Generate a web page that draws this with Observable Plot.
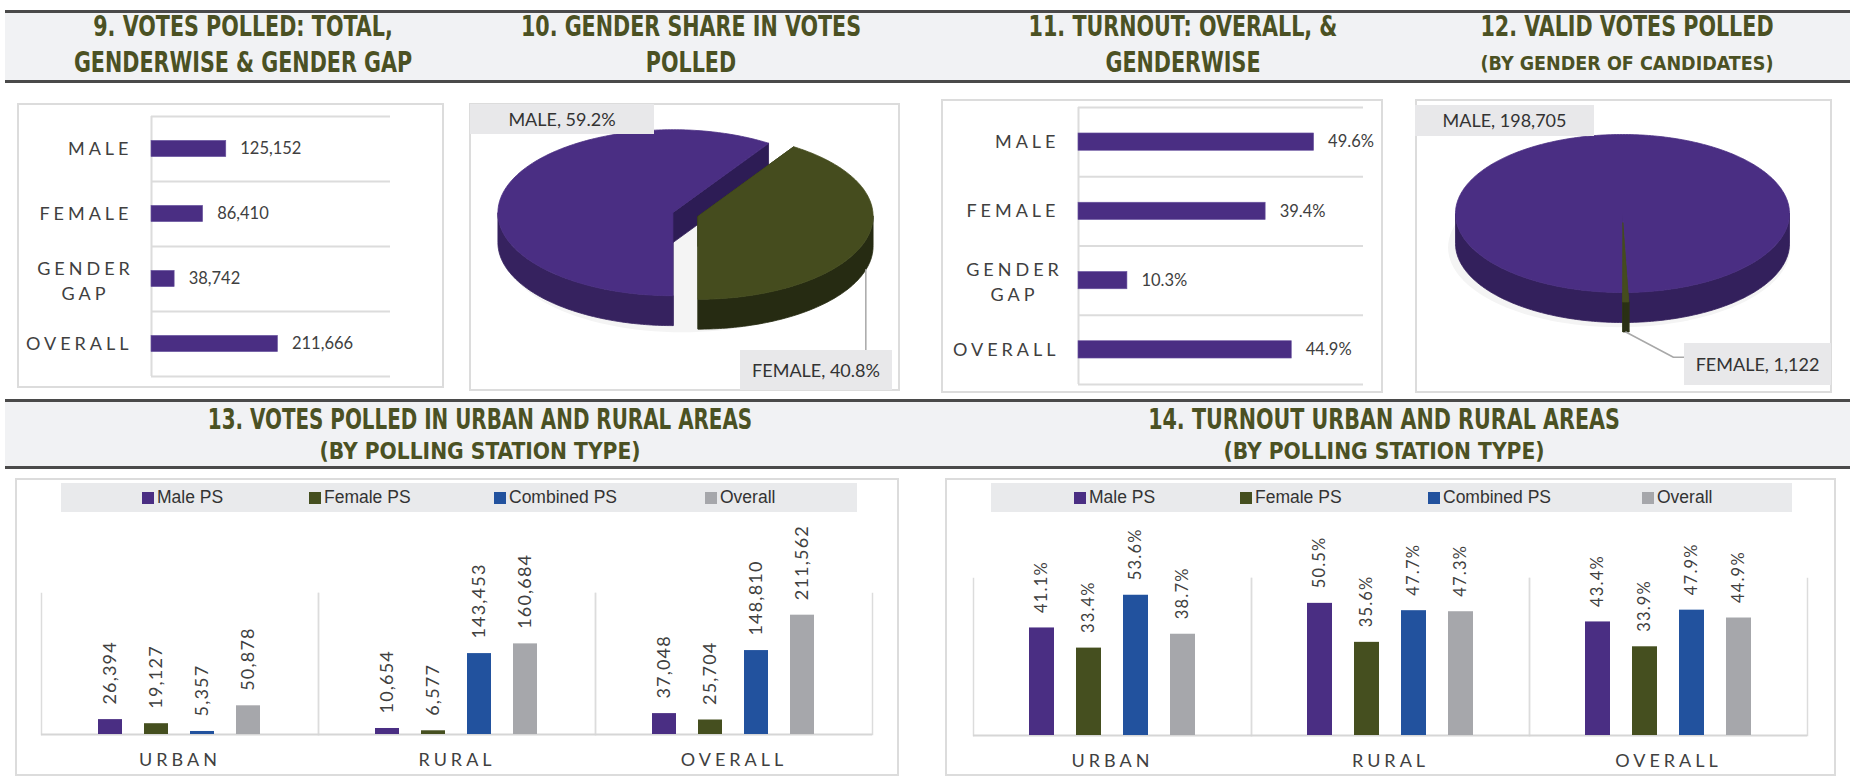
<!DOCTYPE html>
<html><head><meta charset="utf-8">
<script src="https://cdn.jsdelivr.net/npm/d3@7"></script>
<script src="https://cdn.jsdelivr.net/npm/@observablehq/plot@0.6"></script>
<style>
body{margin:0;background:#fff;width:1855px;height:776px;overflow:hidden;position:relative;font-family:Lato,"Open Sans",sans-serif;}
.abs{position:absolute}
.band{position:absolute;left:5px;width:1845px;background:#f1f2f4;border-top:3px solid #4a4a4a;border-bottom:3px solid #4a4a4a;box-sizing:border-box}
.title{position:absolute;transform:translateX(-50%) scaleX(0.82);text-align:center;white-space:nowrap;font-family:"Liberation Sans Narrow","DejaVu Sans Condensed",sans-serif;font-weight:bold;color:#4b5123;font-size:28px;line-height:36px}
.sub{font-size:19.5px;line-height:24px;transform:translateX(-50%)}
.sub2{font-size:23px;line-height:26px;transform:translateX(-50%) scaleX(0.98)}
.box{position:absolute;border:2px solid #dcdcdc;box-sizing:border-box;background:#fff}
.plabel{position:absolute;background:#e8e8ea;text-align:center;font-size:18px;color:#333;white-space:nowrap}
.legend{position:absolute;background:#e9eaec;height:29px}
.legend .it{position:absolute;top:0;height:29px;line-height:29px;font-family:"Liberation Sans",Arial,sans-serif;font-size:17.5px;color:#333;white-space:nowrap}
.legend .sw{display:inline-block;width:12px;height:12px;margin-right:3px;vertical-align:-1px}
[aria-description="spaced"] text{letter-spacing:4px}
[aria-description="vals"] text{letter-spacing:1.2px}
[aria-label^="fx-axis"] text{font-size:18px;letter-spacing:4px;fill:#404040}
</style>
</head><body>
<div class="band" style="top:10px;height:73px"></div>
<div class="band" style="top:399px;height:70px"></div>

<div class="title" style="left:243px;top:9px">9. VOTES POLLED: TOTAL,<br>GENDERWISE &amp; GENDER GAP</div>
<div class="title" style="left:691px;top:9px">10. GENDER SHARE IN VOTES<br>POLLED</div>
<div class="title" style="left:1183px;top:9px">11. TURNOUT: OVERALL, &amp;<br>GENDERWISE</div>
<div class="title" style="left:1627px;top:9px">12. VALID VOTES POLLED</div>
<div class="title sub" style="left:1627px;top:52px">(BY GENDER OF CANDIDATES)</div>
<div class="title" style="left:480px;top:402px;transform:translateX(-50%) scaleX(0.79)">13. VOTES POLLED IN URBAN AND RURAL AREAS</div>
<div class="title sub2" style="left:480px;top:438px">(BY POLLING STATION TYPE)</div>
<div class="title" style="left:1384px;top:402px">14. TURNOUT URBAN AND RURAL AREAS</div>
<div class="title sub2" style="left:1384px;top:438px">(BY POLLING STATION TYPE)</div>

<div class="box" style="left:17px;top:103px;width:427px;height:285px"></div>
<div class="box" style="left:469px;top:103px;width:431px;height:288px"></div>
<div class="box" style="left:941px;top:99px;width:442px;height:294px"></div>
<div class="box" style="left:1415px;top:99px;width:417px;height:294px"></div>
<div class="box" style="left:15px;top:478px;width:884px;height:298px"></div>
<div class="box" style="left:945px;top:478px;width:891px;height:298px"></div>

<div id="c9" class="abs" style="left:17px;top:103px;width:427px;height:285px"></div>
<div id="c10" class="abs" style="left:469px;top:103px;width:431px;height:288px"></div>
<div id="c11" class="abs" style="left:941px;top:99px;width:442px;height:294px"></div>
<div id="c12" class="abs" style="left:1415px;top:99px;width:417px;height:294px"></div>
<div id="l13" class="legend" style="left:61px;top:483px;width:796px"></div>
<div id="l14" class="legend" style="left:991px;top:483px;width:801px"></div>
<div id="c13" class="abs" style="left:15px;top:515px;width:884px;height:261px"></div>
<div id="c14" class="abs" style="left:945px;top:515px;width:891px;height:261px"></div>

<div id="p10a" class="plabel" style="left:470px;top:104px;width:184px;height:30px;line-height:30px"></div>
<div id="p10b" class="plabel" style="left:740px;top:350px;width:152px;height:40px;line-height:40px"></div>
<div id="p12a" class="plabel" style="left:1415px;top:105px;width:179px;height:31px;line-height:31px"></div>
<div id="p12b" class="plabel" style="left:1684px;top:343px;width:147px;height:42px;line-height:42px"></div>

<script>
// ---------- DATA ----------
const genderCats = ["MALE", "FEMALE", "GENDER\nGAP", "OVERALL"];
const votesPolled = [125152, 86410, 38742, 211666];
const turnoutPct = [49.6, 39.4, 10.3, 44.9];
const shareCats = ["MALE", "FEMALE"];
const sharePct = [59.2, 40.8];
const validVotes = [198705, 1122];
const areas = ["URBAN", "RURAL", "OVERALL"];
const psTypes = ["Male PS", "Female PS", "Combined PS", "Overall"];
const votesMalePS = [26394, 10654, 37048];
const votesFemalePS = [19127, 6577, 25704];
const votesCombinedPS = [5357, 143453, 148810];
const votesOverallPS = [50878, 160684, 211562];
const turnMalePS = [41.1, 50.5, 43.4];
const turnFemalePS = [33.4, 35.6, 33.9];
const turnCombinedPS = [53.6, 47.7, 47.9];
const turnOverallPS = [38.7, 47.3, 44.9];

// ---------- STYLE ----------
const purple = "#4a2e83", olive = "#454f1f", blue = "#22529e", grey = "#a6a7ab";
const psColors = [purple, olive, blue, grey];
const txt = "#404040";
const baseStyle = {background: "transparent", fontFamily: "Lato, 'Open Sans', sans-serif", overflow: "visible"};
const fmtInt = d3.format(",");
const fmtPct = d => d3.format(".1f")(d) + "%";

function put(id, node) { document.getElementById(id).appendChild(node); }

// ---------- horizontal bars ----------
function hbar(id, values, fmt, xmax, w, h, m, gapDx) {
  const rows = genderCats.map((c, i) => ({cat: c, value: values[i], i}));
  const single = rows.filter(d => !d.cat.includes("\n"));
  const multi = rows.filter(d => d.cat.includes("\n"));
  const yc = d => d.i + 0.5;
  put(id, Plot.plot({
    width: w, height: h, marginLeft: m[0], marginRight: m[1], marginTop: m[2], marginBottom: m[3],
    style: baseStyle,
    x: {domain: [0, xmax], axis: null},
    y: {domain: [0, genderCats.length], reverse: true, axis: null},
    marks: [
      Plot.ruleY(d3.range(genderCats.length + 1), {stroke: "#dcdcdc", strokeWidth: 2}),
      Plot.ruleX([0], {stroke: "#dcdcdc", strokeWidth: 2}),
      Plot.rect(rows, {x1: 0, x2: "value", y1: d => yc(d) - 0.125, y2: d => yc(d) + 0.125, fill: purple, stroke: "#6a55a0", strokeWidth: 0.6}),
      Plot.text(single, {x: 0, y: yc, text: "cat", textAnchor: "end", dx: -19, fontSize: 18, fill: txt, ariaDescription: "spaced"}),
      Plot.text(multi, {x: 0, y: yc, text: "cat", textAnchor: "middle", dx: gapDx, lineHeight: 1.39, fontSize: 18, fill: txt, ariaDescription: "spaced"}),
      Plot.text(rows, {x: "value", y: yc, text: d => fmt(d.value), textAnchor: "start", dx: 14, fontSize: 16.5, fill: txt})
    ]
  }));
}
hbar("c9", votesPolled, fmtInt, 400000, 427, 285, [134, 54, 13, 12], -66);
hbar("c11", turnoutPct, fmtPct, 60, 442, 294, [137, 20, 8, 9], -64);

// ---------- 3D pies ----------
function pie3d(id, values, o) {
  const arcs = d3.pie().sort(null).startAngle(Math.PI).endAngle(3 * Math.PI)(values);
  const step = Math.PI / 180;
  const walls = [], tops = [];
  const geo = arcs.map((a, k) => {
    const mid = (a.startAngle + a.endAngle) / 2;
    const e = o.explode[k];
    const ox = e * Math.sin(mid), oy = e * Math.cos(mid);
    const P = (t, r, z) => ({x: ox + r * Math.sin(t), y: oy + r * Math.cos(t) - z});
    const arcPts = (t0, t1, z) => {
      const n = Math.max(2, Math.ceil(Math.abs(t1 - t0) / step));
      return d3.range(n + 1).map(i => P(t0 + (t1 - t0) * i / n, 1, z));
    };
    for (const t of [a.startAngle, a.endAngle])
      walls.push({pts: [P(t, 0, 0), P(t, 1, 0), P(t, 1, o.depth), P(t, 0, o.depth)], fill: o.cut[k]});
    for (let base = 0; base <= 4 * Math.PI; base += 2 * Math.PI) {
      const b0 = Math.max(a.startAngle, base + Math.PI / 2), b1 = Math.min(a.endAngle, base + 3 * Math.PI / 2);
      if (b1 > b0) walls.push({pts: [...arcPts(b0, b1, 0), ...arcPts(b1, b0, o.depth)], fill: o.wall[k]});
    }
    tops.push({pts: [P(0, 0, 0), ...arcPts(a.startAngle, a.endAngle, 0)], fill: o.top[k]});
    return {mid, bottom: P(mid, 1, o.depth)};
  });
  const shadow = d3.range(0, 361, 3).map(t => ({x: 1.02 * Math.sin(t * step) - 0.02, y: 1.0 * Math.cos(t * step) - o.depth - 0.05}));
  const leader = [geo[1].bottom, ...o.leader(geo[1].bottom)];
  const marks = [Plot.line(shadow, {x: "x", y: "y", fill: "#f4f4f4", stroke: "#f4f4f4", curve: "linear-closed"})];
  for (const p of [...walls, ...tops])
    marks.push(Plot.line(p.pts, {x: "x", y: "y", fill: p.fill, stroke: p.fill, strokeWidth: 0.8, curve: "linear-closed"}));
  marks.push(Plot.line(leader, {x: "x", y: "y", stroke: "#a8a8a8", strokeWidth: 1.5}));
  put(id, Plot.plot({
    width: o.w, height: o.h, margin: 0, style: baseStyle,
    x: {domain: [-1, 1], range: o.xr, axis: null},
    y: {domain: [-1, 1], range: o.yr, axis: null},
    marks
  }));
}
pie3d("c10", sharePct, {
  w: 431, h: 288, xr: [41, 391], yr: [194, 28], depth: 0.36, explode: [0.075, 0.075],
  top: [purple, "#454c1e"], wall: ["#36225f", "#262b12"], cut: ["#2d1c55", "#2a3014"],
  leader: s => [{x: s.x, y: -1.64}]
});
pie3d("c12", validVotes, {
  w: 417, h: 294, xr: [40, 374], yr: [193, 35], depth: 0.38, explode: [0, 0.12],
  top: [purple, "#454c1e"], wall: ["#33205c", "#2a3014"], cut: ["#2d1c55", "#3a4119"],
  leader: s => [{x: 0.305, y: -1.82}, {x: 0.371, y: -1.82}]
});
document.getElementById("p10a").textContent = `${shareCats[0]}, ${sharePct[0].toFixed(1)}%`;
document.getElementById("p10b").textContent = `${shareCats[1]}, ${sharePct[1].toFixed(1)}%`;
document.getElementById("p12a").textContent = `${shareCats[0]}, ${fmtInt(validVotes[0])}`;
document.getElementById("p12b").textContent = `${shareCats[1]}, ${fmtInt(validVotes[1])}`;

// ---------- legends ----------
function legend(id, offsets) {
  const el = document.getElementById(id);
  psTypes.forEach((t, i) => {
    const it = document.createElement("div");
    it.className = "it";
    it.style.left = offsets[i] + "px";
    it.innerHTML = `<span class="sw" style="background:${psColors[i]}"></span>${t}`;
    el.appendChild(it);
  });
}
legend("l13", [81, 248, 433, 644]);
legend("l14", [83, 249, 437, 651]);

// ---------- column charts ----------
function columns(id, vals, fmt, ymax, w, h, m, fs) {
  const rows = areas.flatMap((a, i) => psTypes.map((t, j) => ({area: a, type: t, value: vals[j][i]})));
  put(id, Plot.plot({
    width: w, height: h, marginLeft: m[0], marginRight: m[1], marginTop: m[2], marginBottom: m[3],
    style: baseStyle,
    facet: {data: rows, x: "area"},
    fx: {domain: areas, padding: 0, label: null, axis: "bottom", tickSize: 0, tickPadding: 19},
    x: {domain: psTypes, axis: null, paddingInner: 0.47, paddingOuter: 1.19},
    y: {domain: [0, ymax], axis: null},
    color: {domain: psTypes, range: psColors},
    marks: [
      Plot.frame({anchor: "left", stroke: "#dcdcdc", strokeWidth: 1.5}),
      Plot.frame({anchor: "right", stroke: "#dcdcdc", strokeWidth: 1.5}),
      Plot.ruleY([0], {stroke: "#d6d6d6", strokeWidth: 2}),
      Plot.barY(rows, {x: "type", y: "value", fill: "type"}),
      Plot.text(rows, {x: "type", y: "value", text: d => fmt(d.value), rotate: -90, textAnchor: "start", dy: -15, fontSize: fs, fill: txt, ariaDescription: "vals"})
    ]
  }));
}
columns("c13", [votesMalePS, votesFemalePS, votesCombinedPS, votesOverallPS], fmtInt, 250000, 884, 261, [25, 27, 78, 42], 18);
columns("c14", [turnMalePS, turnFemalePS, turnCombinedPS, turnOverallPS], fmtPct, 60, 891, 261, [27, 28, 63, 41], 16.5);
</script>
</body></html>
